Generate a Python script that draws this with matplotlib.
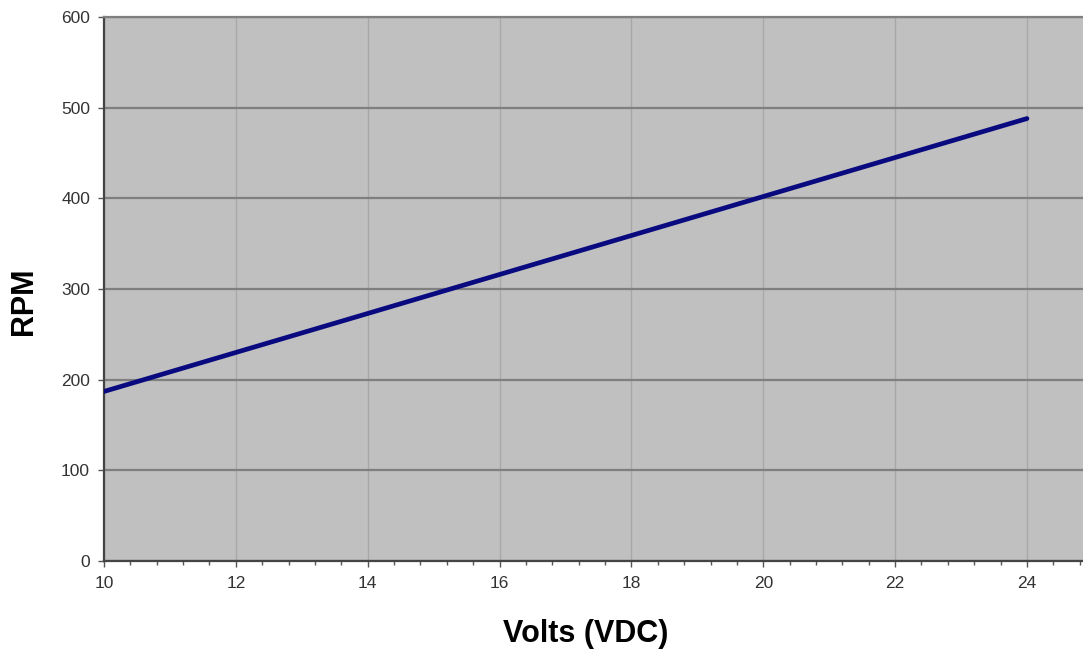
import matplotlib
matplotlib.use('Agg')
import matplotlib.pyplot as plt
from matplotlib.ticker import MultipleLocator

volts = [10, 12, 14, 16, 18, 20, 22, 24]
rpm = [187, 230, 273, 316, 359, 402, 445, 488]

x_ticks = [10, 12, 14, 16, 18, 20, 22, 24]
y_ticks = [0, 100, 200, 300, 400, 500, 600]

plt.rcParams['font.family'] = ['Liberation Sans', 'DejaVu Sans']

fig = plt.figure(figsize=(10.83, 6.52), dpi=100)
ax = fig.add_axes([104 / 1083, 1 - 561 / 652, 1 - 104 / 1083, (561 - 17) / 652])
ax.set_facecolor('#c0c0c0')

ax.plot(volts, rpm, color='#0a0a80', linewidth=3.4, solid_capstyle='round', zorder=3)

ax.set_xlim(10, 24.85)
ax.set_ylim(0, 600)
ax.set_xticks(x_ticks)
ax.set_yticks(y_ticks)
ax.xaxis.set_minor_locator(MultipleLocator(0.4))

ax.grid(True, axis='y', which='major', color='#7f7f7f', linewidth=1.6, zorder=1)
ax.grid(True, axis='x', which='major', color='#a8a8a8', linewidth=1.0, zorder=1)
ax.set_axisbelow(True)

for side in ['left', 'bottom']:
    ax.spines[side].set_color('#444444')
    ax.spines[side].set_linewidth(1.6)
ax.spines['top'].set_color('#7f7f7f')
ax.spines['top'].set_linewidth(1.6)
ax.spines['right'].set_visible(False)

ax.tick_params(axis='both', which='major', labelsize=12.5, labelcolor='#333333',
               color='#555555', length=4, width=1)
ax.tick_params(axis='x', which='minor', color='#555555', length=3, width=1)
ax.tick_params(axis='x', pad=7)
ax.tick_params(axis='y', pad=6)

ax.set_xlabel('Volts (VDC)', fontsize=22, fontweight='bold')
ax.set_ylabel('RPM', fontsize=22, fontweight='bold')
ax.xaxis.set_label_coords(0.492, -0.107)
ax.yaxis.set_label_coords(-0.066, 0.478)

fig.savefig('out.png', dpi=100)
